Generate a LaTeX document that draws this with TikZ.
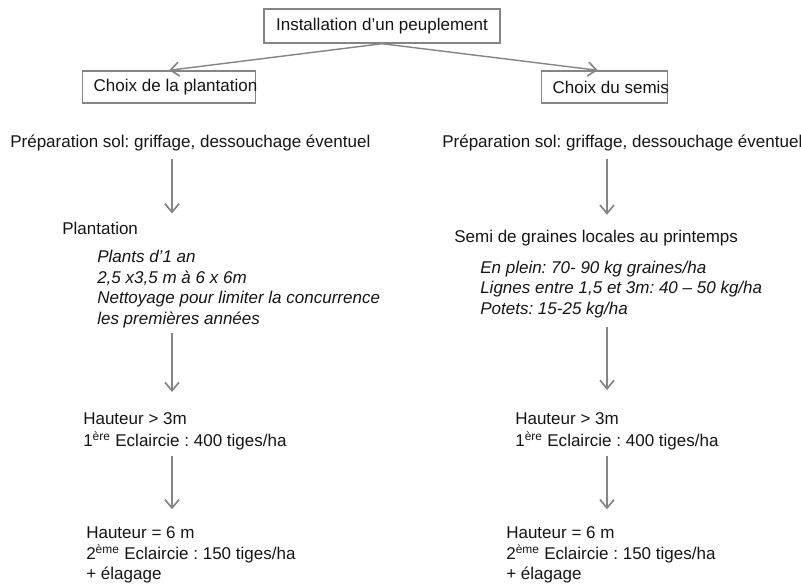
\documentclass[tikz,border=0pt]{standalone}
\usepackage{fontspec}
\setmainfont{Liberation Sans}
\usepackage{xcolor}
\definecolor{LineGray}{HTML}{858585}
\definecolor{TextDark}{HTML}{151515}
\usetikzlibrary{arrows.meta, positioning}
\frenchspacing

\begin{document}
\begin{tikzpicture}[
  x=0.025cm, y=-0.025cm,
  every node/.style={font=\fontsize{12.1}{14.7}\selectfont, text=TextDark, inner sep=0pt},
  box/.style={rectangle, draw=LineGray, line width=1pt, minimum height=0.8cm},
  txt/.style={anchor=west, align=left},
  info/.style={txt, font=\fontsize{12.1}{14.7}\selectfont\itshape},
  arrow/.style={-{Straight Barb[length=6pt, width=10pt, line width=1.2pt]}, LineGray, line width=1pt}
]
  \useasboundingbox (0,0) rectangle (801,584);

  % boxes
  \node[box, inner xsep=0.3cm, minimum height=0.85cm] (top) at (382,26) {Installation d’un peuplement};
  \node[box, anchor=west] (plantBox) at (82,87) {\makebox[4.325cm][l]{\hspace{0.275cm}Choix de la plantation}};
  \node[box, anchor=west] (semisBox) at (541,87) {\makebox[3.15cm][l]{\hspace{0.275cm}Choix du semis}};

  \draw[arrow] (top.south) -- (plantBox.north);
  \draw[arrow] (top.south) -- ([xshift=-0.175cm]semisBox.north);

  % plantation
  \node[txt] (prepL) at (10,143.5) {Préparation sol: griffage, dessouchage éventuel};
  \node[txt] (plant) at (62,228) {Plantation};
  \node[info] (plantInfo) at (97,289) {Plants d’1 an\\2,5 x3,5 m à 6 x 6m\\Nettoyage pour limiter la concurrence\\les premières années};
  \node[txt, font=\fontsize{12.1}{15.6}\selectfont] (haut3L) at (83,431) {Hauteur > 3m\\1\textsuperscript{ère} Eclaircie : 400 tiges/ha};
  \node[txt] (haut6L) at (86,555) {Hauteur = 6 m\\2\textsuperscript{ème} Eclaircie : 150 tiges/ha\\+ élagage};

  % semis
  \node[txt] (prepR) at (442,143.5) {Préparation sol: griffage, dessouchage éventuel};
  \node[txt] (semi) at (454,238) {Semi de graines locales au printemps};
  \node[info] (semiInfo) at (480,289.5) {En plein: 70- 90 kg graines/ha\\Lignes entre 1,5 et 3m: 40 – 50 kg/ha\\Potets: 15-25 kg/ha};
  \node[txt, font=\fontsize{12.1}{15.6}\selectfont] (haut3R) at (515,431) {Hauteur > 3m\\1\textsuperscript{ère} Eclaircie : 400 tiges/ha};
  \node[txt] (haut6R) at (506,555) {Hauteur = 6 m\\2\textsuperscript{ème} Eclaircie : 150 tiges/ha\\+ élagage};

  \coordinate (colL) at (172,0);
  \coordinate (colR) at (607,0);

  \draw[arrow, shorten <=0.175cm, shorten >=0.2cm] (prepL.south -| colL) -- (plant.north -| colL);
  \draw[arrow, shorten <=0.125cm, shorten >=0.5cm] (plantInfo.south -| colL) -- (haut3L.north -| colL);
  \draw[arrow, shorten <=0.15cm, shorten >=0.425cm] (haut3L.south -| colL) -- (haut6L.north -| colL);

  \draw[arrow, shorten <=0.175cm, shorten >=0.375cm] (prepR.south -| colR) -- (semi.north -| colR);
  \draw[arrow, shorten <=0.225cm, shorten >=0.55cm] (semiInfo.south -| colR) -- (haut3R.north -| colR);
  \draw[arrow, shorten <=0.15cm, shorten >=0.425cm] (haut3R.south -| colR) -- (haut6R.north -| colR);
\end{tikzpicture}
\end{document}
